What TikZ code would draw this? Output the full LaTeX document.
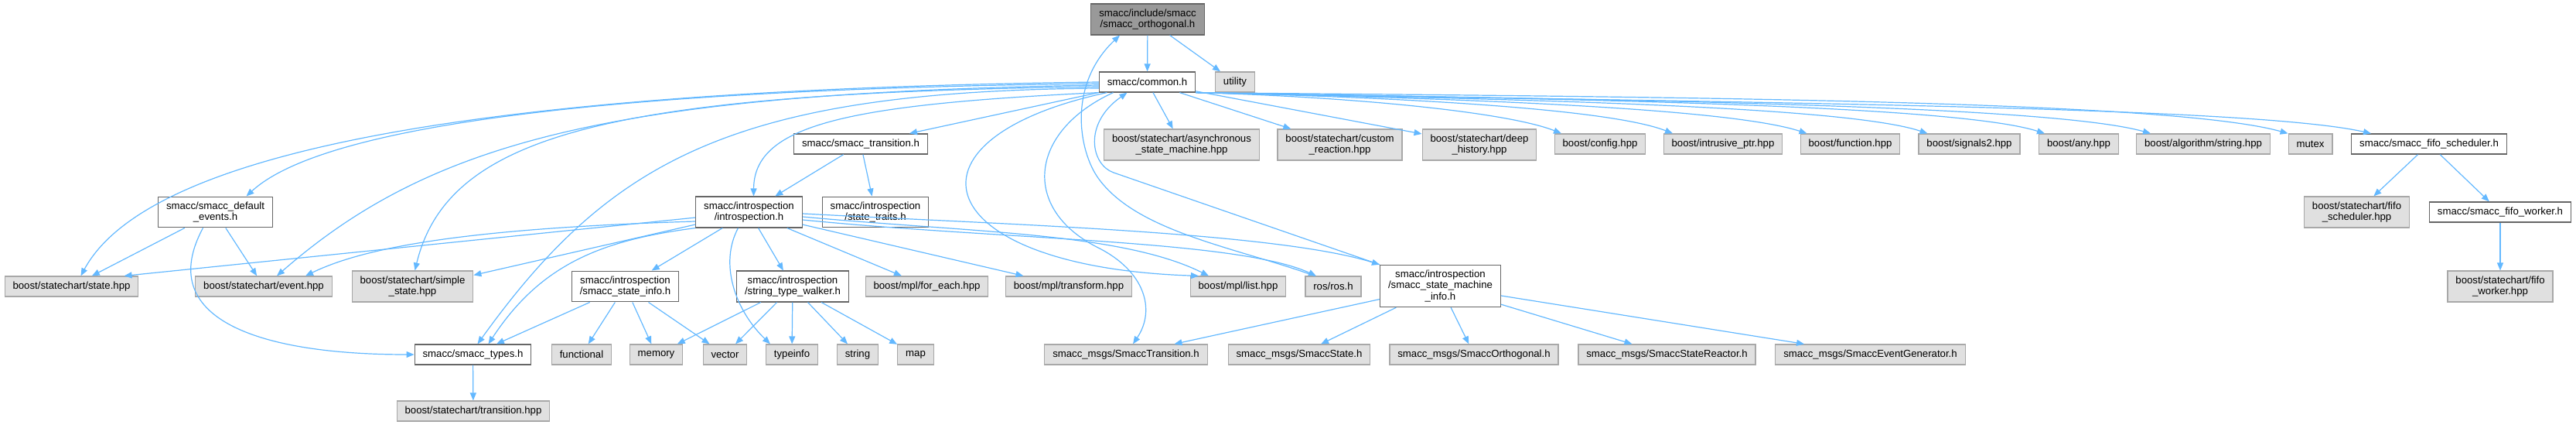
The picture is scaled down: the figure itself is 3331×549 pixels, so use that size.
\documentclass[tikz,border=0pt]{standalone}
\usepackage{fontspec}
\setmainfont{Liberation Sans}
\usetikzlibrary{arrows.meta,shapes}
\definecolor{edgeblue}{HTML}{63B8FF}
\definecolor{boxgray}{HTML}{E0E0E0}
\definecolor{rootgray}{HTML}{999999}
\definecolor{sysline}{HTML}{A8A8A8}
\definecolor{hline}{HTML}{666666}
\tikzstyle{hfile}=[rectangle,draw=hline,fill=white,line width=0.6pt,align=center,inner xsep=5.2pt,inner ysep=3.3pt,minimum height=13pt,font=\fontsize{6.6}{7.2}\selectfont]
\tikzstyle{sysfile}=[hfile,draw=sysline,fill=boxgray]
\tikzstyle{rootfile}=[hfile,fill=rootgray]
\tikzstyle{incdep}=[-{Triangle[length=5pt,width=4pt]},draw=edgeblue,line width=0.6pt]

\begin{document}
\begin{tikzpicture}[x=0.5pt,y=-0.5pt,incdep]
\useasboundingbox (0,0) rectangle (3331,549);
\node[rootfile] (orth) at (1484,25) {smacc/include/smacc\\/smacc\_orthogonal.h};
\node[hfile] (common) at (1483.5,106) {smacc/common.h};
\node[sysfile] (utility) at (1597,106) {utility};
\node[hfile] (trans) at (1113,186) {smacc/smacc\_transition.h};
\node[sysfile] (async) at (1528,187) {boost/statechart/asynchronous\\\_state\_machine.hpp};
\node[sysfile] (custom) at (1732.5,187) {boost/statechart/custom\\\_reaction.hpp};
\node[sysfile] (deep) at (1913,187) {boost/statechart/deep\\\_history.hpp};
\node[sysfile] (config) at (2069,186) {boost/config.hpp};
\node[sysfile] (intrusive) at (2228,186) {boost/intrusive\_ptr.hpp};
\node[sysfile] (function) at (2392.5,186) {boost/function.hpp};
\node[sysfile] (signals) at (2546.5,186) {boost/signals2.hpp};
\node[sysfile] (any) at (2688,186) {boost/any.hpp};
\node[sysfile] (algo) at (2849,186) {boost/algorithm/string.hpp};
\node[sysfile] (mutex) at (2987.5,186) {mutex};
\node[hfile] (fifosch) at (3141,186) {smacc/smacc\_fifo\_scheduler.h};
\node[hfile] (defev) at (278.5,274) {smacc/smacc\_default\\\_events.h};
\node[hfile] (intro) at (968.5,274) {smacc/introspection\\/introspection.h};
\node[hfile] (traits) at (1132,274) {smacc/introspection\\/state\_traits.h};
\node[sysfile] (fifoschhpp) at (3047.5,274) {boost/statechart/fifo\\\_scheduler.hpp};
\node[hfile] (fifowork) at (3233,274) {smacc/smacc\_fifo\_worker.h};
\node[sysfile] (state) at (92.5,370) {boost/statechart/state.hpp};
\node[sysfile] (event) at (341,370) {boost/statechart/event.hpp};
\node[sysfile] (simple) at (533.5,370) {boost/statechart/simple\\\_state.hpp};
\node[hfile] (stinfo) at (808.5,370) {smacc/introspection\\/smacc\_state\_info.h};
\node[hfile] (walker) at (1025,370) {smacc/introspection\\/string\_type\_walker.h};
\node[sysfile] (foreach) at (1198.5,370) {boost/mpl/for\_each.hpp};
\node[sysfile] (transform) at (1382,370) {boost/mpl/transform.hpp};
\node[sysfile] (list) at (1601,370) {boost/mpl/list.hpp};
\node[sysfile] (ros) at (1724,370) {ros/ros.h};
\node[hfile] (smi) at (1862.5,369.5) {smacc/introspection\\/smacc\_state\_machine\\\_info.h};
\node[sysfile] (fifoworkhpp) at (3233,370) {boost/statechart/fifo\\\_worker.hpp};
\node[hfile] (types) at (611.5,458) {smacc/smacc\_types.h};
\node[sysfile] (functional) at (752,458) {functional};
\node[sysfile] (memory) at (848.5,458) {memory};
\node[sysfile] (vector) at (937.5,458) {vector};
\node[sysfile] (typeinfo) at (1024,458) {typeinfo};
\node[sysfile] (string) at (1109,458) {string};
\node[sysfile] (map) at (1184,458) {map};
\node[sysfile] (msgtrans) at (1456,458) {smacc\_msgs/SmaccTransition.h};
\node[sysfile] (msgstate) at (1680,458) {smacc\_msgs/SmaccState.h};
\node[sysfile] (msgorth) at (1906,458) {smacc\_msgs/SmaccOrthogonal.h};
\node[sysfile] (msgreact) at (2155.5,458) {smacc\_msgs/SmaccStateReactor.h};
\node[sysfile] (msgevgen) at (2418.5,458) {smacc\_msgs/SmaccEventGenerator.h};
\node[sysfile] (transhpp) at (612,531) {boost/statechart/transition.hpp};
\draw (orth)--(common);\draw (orth)--(utility);
\draw (common)--(trans);\draw (common)--(async);\draw (common)--(custom);\draw (common)--(deep);
\draw (common.west) .. controls (700,115) and (200,180) .. ([xshift=6pt]state.north);
\draw ([yshift=-1pt]common.west) .. controls (800,115) and (420,160) .. ([xshift=20pt]defev.north);
\draw ([yshift=-2pt]common.west) .. controls (800,120) and (560,180) .. ([xshift=8.5pt]event.north);
\draw ([yshift=-3pt]common.west) .. controls (800,120) and (580,170) .. ([xshift=1.5pt]simple.north);
\draw ([yshift=-4pt]common.west) .. controls (950,118) and (790,205) .. ([xshift=3pt]types.north);
\draw (common.south west) .. controls (1100,135) and (975,160) .. ([xshift=3pt]intro.north);
\draw ([xshift=-26pt]common.south) .. controls (1150,180) and (1200,345) .. ([xshift=-25.5pt]list.north);
\draw ([xshift=-22pt]common.south) .. controls (1330,170) and (1320,270) .. (1420,320) .. controls (1480,350) and (1495,400) .. ([xshift=4.5pt]msgtrans.north);
\draw (common.south east) .. controls (1750,125) and (1950,145) .. ([xshift=-25pt]config.north);
\draw (common.south east) .. controls (1800,125) and (2080,140) .. ([xshift=-32.5pt]intrusive.north);
\draw (common.south east) .. controls (1850,126) and (2230,138) .. ([xshift=-28pt]function.north);
\draw (common.south east) .. controls (1900,127) and (2380,135) .. ([xshift=-27pt]signals.north);
\draw (common.south east) .. controls (1950,127) and (2520,133) .. ([xshift=-22pt]any.north);
\draw (common.south east) .. controls (2000,128) and (2640,133) .. ([xshift=-34pt]algo.north);
\draw (common.south east) .. controls (2100,125) and (2800,128) .. (mutex.north west);
\draw (common.south east) .. controls (2150,132) and (2900,135) .. ([xshift=-37.5pt]fifosch.north);
\draw ([xshift=-12pt]ros.north) .. controls (1600,320) and (1470,300) .. (1420,230) .. controls (1395,195) and (1380,110) .. ([xshift=-18pt]orth.south);
\draw (smi.north west) -- (1440,223) .. controls (1411,213) and (1400,160) .. ([xshift=-13pt]common.south);
\draw (trans)--(intro);\draw (trans)--(traits);
\draw (defev)--(state);\draw (defev)--(event);
\draw ([xshift=-8pt]defev.south) .. controls (200,410) and (330,458) .. (types.west);
\draw (intro) -- ([xshift=34pt]state.north);
\draw ([yshift=-6pt]intro.west) .. controls (600,295) and (470,320) .. ([xshift=27pt]event.north);
\draw ([yshift=-8pt]intro.west) -- ([yshift=-3pt]simple.north east);
\draw (intro.south west) .. controls (780,310) and (700,340) .. ([xshift=10pt]types.north);
\draw ([xshift=-7pt]intro.south) .. controls (930,340) and (950,400) .. ([xshift=-14pt]typeinfo.north);
\draw (intro)--(stinfo);\draw (intro)--(walker);\draw (intro)--(foreach);\draw (intro)--(transform);
\draw ([yshift=-3pt]intro.east) .. controls (1250,300) and (1450,300) .. ([xshift=-19pt]list.north);
\draw ([yshift=-5pt]intro.east) .. controls (1300,310) and (1600,310) .. ([xshift=-11pt]ros.north);
\draw ([yshift=-1pt]intro.east) .. controls (1300,290) and (1650,300) .. (smi.north west);
\draw (stinfo)--(types);\draw (stinfo)--(functional);\draw (stinfo)--(memory);\draw (stinfo)--(vector);
\draw (walker)--(memory);\draw (walker)--(vector);\draw (walker)--(typeinfo);\draw (walker)--(string);\draw (walker)--(map);
\draw (types)--(transhpp);
\draw (smi)--(msgtrans);\draw (smi)--(msgstate);\draw (smi)--(msgorth);\draw (smi)--(msgreact);\draw (smi)--(msgevgen);
\draw (fifosch)--(fifoschhpp);\draw (fifosch)--(fifowork);\draw (fifowork)--(fifoworkhpp);
\end{tikzpicture}
\end{document}
